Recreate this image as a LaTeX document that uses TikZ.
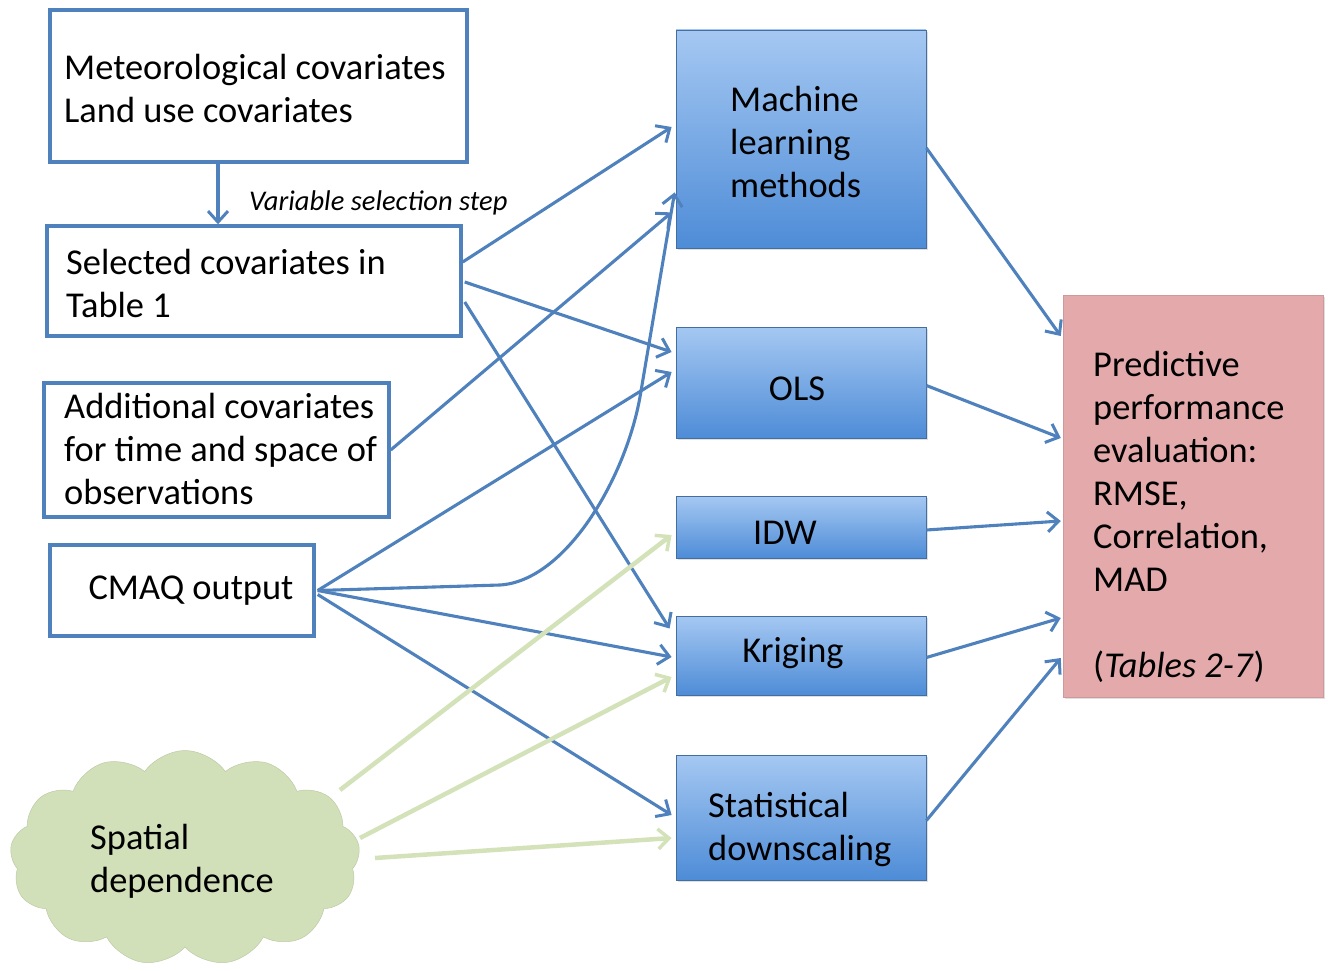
\documentclass[tikz,border=0pt]{standalone}
\usepackage{fontspec}
\setmainfont{Carlito}
\usetikzlibrary{arrows.meta,shapes.symbols,calc,shadows}
\definecolor{bl}{RGB}{79,129,189}
\definecolor{btop}{RGB}{165,200,242}
\definecolor{bbot}{RGB}{78,140,215}
\definecolor{pinkf}{RGB}{228,170,171}
\definecolor{grn}{RGB}{212,226,186}
\definecolor{grnl}{RGB}{210,224,185}
\begin{document}
\begin{tikzpicture}[x=1pt,y=-1pt,
  wbox/.style={draw=bl,line width=3.4pt,fill=white,inner sep=0pt},
  bbox/.style={draw=bl!85!black,line width=0.8pt,top color=btop,bottom color=bbot,inner sep=0pt,
    drop shadow={opacity=0.25,shadow xshift=2pt,shadow yshift=-2pt}},
  pbox/.style={fill=pinkf,draw=pinkf!90!black,line width=0.5pt,inner sep=0pt,
    drop shadow={opacity=0.25,shadow xshift=2pt,shadow yshift=-2pt}},
  txt/.style={font=\fontsize{36.4}{43}\selectfont,align=left,inner sep=0pt},
  arr/.style={draw=bl,line width=3.1pt,-{Straight Barb[length=11pt,width=20pt,line width=3pt]}},
  garr/.style={draw=grn,line width=4.5pt,-{Straight Barb[length=11pt,width=20pt,line width=3.5pt]}}]
\useasboundingbox (0,0) rectangle (1328,971);

% boxes
\node[wbox,minimum width=417,minimum height=152] (met) at (258.5,86) {};
\node[wbox,minimum width=414,minimum height=110] (sel) at (254,281) {};
\node[wbox,minimum width=345,minimum height=134] (add) at (216.5,450) {};
\node[wbox,minimum width=264,minimum height=91] (cmaq) at (182,590.5) {};
\node[cloud,cloud puffs=13,cloud puff arc=110,aspect=1.6,fill=grnl,draw=grnl!90!black,line width=0.5pt,
      minimum width=350,minimum height=215,inner sep=0pt] (cloud) at (185,858) {};

\node[bbox,minimum width=250,minimum height=218] (ml) at (801,139) {};
\node[bbox,minimum width=250,minimum height=111] (ols) at (801,382.5) {};
\node[bbox,minimum width=250,minimum height=62] (idw) at (801,527) {};
\node[bbox,minimum width=250,minimum height=79] (krig) at (801,655.5) {};
\node[bbox,minimum width=250,minimum height=125] (stat) at (801,817.5) {};
\node[pbox,minimum width=260,minimum height=402] (pred) at (1193,496) {};

% texts
\node[txt,anchor=west] (metT) at (64,88) {Meteorological covariates\\Land use covariates};
\node[txt,anchor=west] (selT) at (66,283) {Selected covariates in\\Table 1};
\node[txt,anchor=west] (addT) at (64,449) {Additional covariates\\for time and space of\\observations};
\node[txt] (cmaqT) at (191,591) {CMAQ output};
\node[txt,anchor=west] (cloudT) at (90,861) {Spatial\\dependence};
\node[txt,anchor=west] (mlT) at (730,142) {Machine\\learning\\methods};
\node[txt] (olsT) at (797,389) {OLS};
\node[txt] (idwT) at (785,533) {IDW};
\node[txt] (krigT) at (793,653) {Kriging};
\node[txt,anchor=west] (statT) at (708,829) {Statistical\\downscaling};
\node[txt,anchor=west] (predT) at (1093,517) {Predictive\\performance\\evaluation:\\RMSE,\\Correlation,\\MAD\\[43pt](\textit{Tables 2-7})};
\node[inner sep=0pt,anchor=west,font=\fontsize{28.5}{32}\selectfont\itshape] (vss) at (249,203) {Variable selection step};

% connectors
\draw[arr] ($(met.south)+(-40.5,0)$) -- ($(sel.north)+(-36,0)$);
\draw[arr] ($(sel.east)+(0,-19)$) -- ($(ml.west)+(-4,-12)$);
\draw[arr] ($(sel.east)+(2,1)$) -- ($(ols.west)+(-4,-30.5)$);
\draw[arr] ($(sel.east)+(2,21)$) -- ($(krig.west)+(-6,-27)$);
\draw[arr] (add.east) -- ($(ml.south west)+(-4,-36)$);
\draw[arr] ($(cmaq.east)+(2,0)$) -- ($(ols.west)+(-4,-10.5)$);
\draw[arr] ($(cmaq.east)+(2,0)$) -- (500,585) .. controls (565,581) and (625,480) .. (640,397) -- ($(ml.south west)+(-1,-56)$);
\draw[arr] ($(cmaq.east)+(2,0)$) -- ($(krig.west)+(-4,1.5)$);
\draw[arr] ($(cmaq.east)+(2,4)$) -- ($(stat.west)+(-4,-2.5)$);

\draw[garr] ($(cloud.center)+(155,-68)$) -- ($(idw.west)+(-4,8)$);
\draw[garr] ($(cloud.center)+(175,-20)$) -- ($(krig.west)+(-4,21.5)$);
\draw[garr] ($(cloud.center)+(190,0)$) -- ($(stat.west)+(-4,20.5)$);

\draw[arr] ($(ml.east)+(0,9)$) -- ($(pred.west)+(-2,-160)$);
\draw[arr] ($(ols.east)+(0,3)$) -- ($(pred.west)+(-2,-58)$);
\draw[arr] ($(idw.east)+(0,3)$) -- ($(pred.west)+(-2,25)$);
\draw[arr] ($(krig.east)+(0,2)$) -- ($(pred.west)+(-2,122)$);
\draw[arr] ($(stat.east)+(0,3)$) -- ($(pred.west)+(-2,162)$);
\end{tikzpicture}
\end{document}
